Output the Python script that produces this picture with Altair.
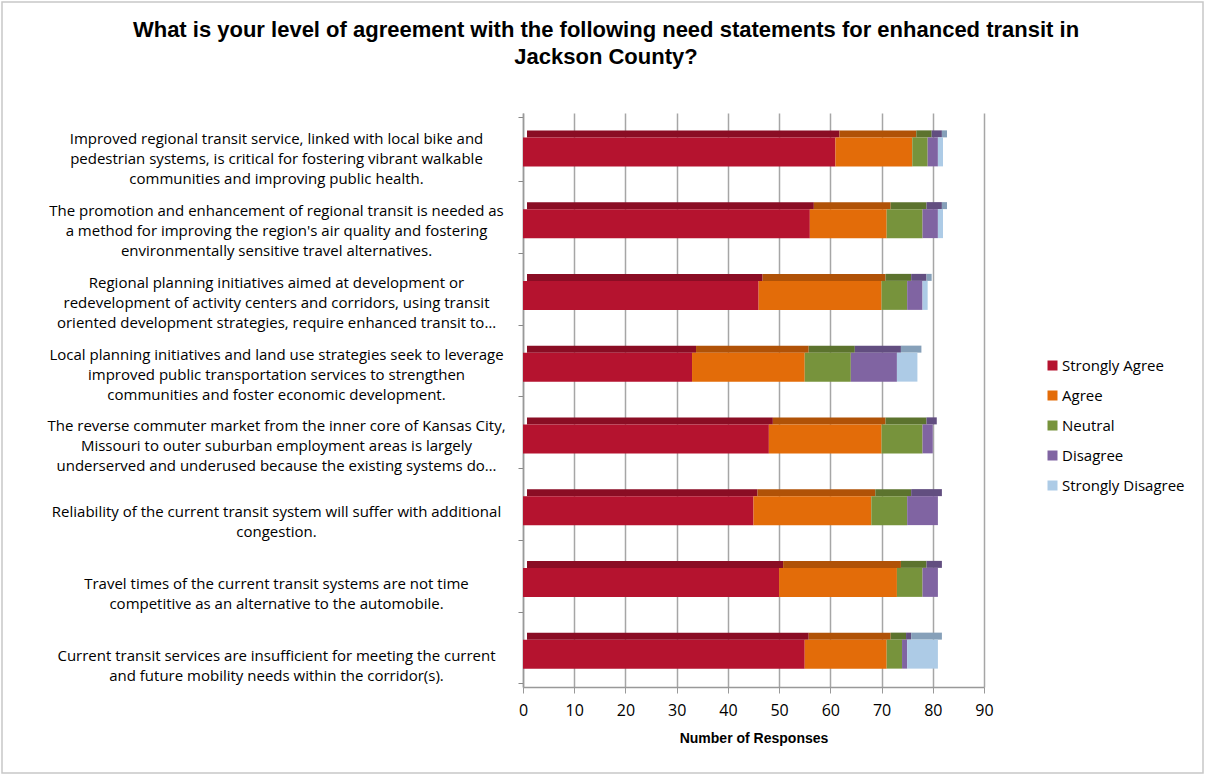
import altair as alt
import pandas as pd

title_lines = [
    "What is your level of agreement with the following need statements for enhanced transit in",
    "Jackson County?",
]
statements = [
    "Improved regional transit service, linked with local bike and|pedestrian systems, is critical for fostering vibrant walkable|communities and improving public health.",
    "The promotion and enhancement of regional transit is needed as|a method for improving the region's air quality and fostering|environmentally sensitive travel alternatives.",
    "Regional planning initiatives aimed at development or|redevelopment of activity centers and corridors, using transit|oriented development strategies, require enhanced transit to…",
    "Local planning initiatives and land use strategies seek to leverage|improved public transportation services to strengthen|communities and foster economic development.",
    "The reverse commuter market from the inner core of Kansas City,|Missouri to outer suburban employment areas is largely|underserved and underused because the existing systems do…",
    "Reliability of the current transit system will suffer with additional|congestion.",
    "Travel times of the current transit systems are not time|competitive as an alternative to the automobile.",
    "Current transit services are insufficient for meeting the current|and future mobility needs within the corridor(s).",
]
responses = ["Strongly Agree", "Agree", "Neutral", "Disagree", "Strongly Disagree"]
strongly_agree = [61, 56, 46, 33, 48, 45, 50, 55]
agree = [15, 15, 24, 22, 22, 23, 23, 16]
neutral = [3, 7, 5, 9, 8, 7, 5, 3]
disagree = [2, 3, 3, 9, 2, 6, 3, 1]
strongly_disagree = [1, 1, 1, 4, 0, 0, 0, 6]
x_ticks = [0, 10, 20, 30, 40, 50, 60, 70, 80, 90]

front_colors = ["#B5132F", "#E36C09", "#77933C", "#8064A2", "#ADCBE6"]
top_colors = ["#8A0D24", "#B05207", "#5C732E", "#624E80", "#86A0B9"]

series = [strongly_agree, agree, neutral, disagree, strongly_disagree]
rows = []
for ri, (resp, vals) in enumerate(zip(responses, series)):
    for s, v in zip(statements, vals):
        rows.append({"statement": s, "response": resp, "order": ri, "count": v})
df = pd.DataFrame(rows)

W, H = 461, 574
LEFT, TOP = 523, 113
FONT = "Open Sans"

base = alt.Chart(df).encode(
    y=alt.Y(
        "statement:N",
        sort=statements,
        title=None,
        axis=alt.Axis(
            labelExpr="split(datum.label, '|')",
            labelAlign="center",
            labelPadding=242,
            labelOffset={
                "condition": {"test": "length(split(datum.label, '|')) >= 3", "value": -10},
                "value": 4,
            },
            labelFontSize=15,
            labelLineHeight=20,
            labelLimit=0,
            labelColor="#000000",
            labelFont=FONT,
            tickBand="extent",
            tickColor="#888888",
            tickSize=5,
            domainColor="#999999",
            domainWidth=1.5,
            grid=False,
        ),
    ),
    x=alt.X(
        "count:Q",
        stack="zero",
        title="Number of Responses",
        scale=alt.Scale(domain=[0, 90], nice=False, zero=True),
        axis=alt.Axis(
            values=x_ticks,
            labelFlush=False,
            labelFontSize=16,
            labelColor="#000000",
            labelFont=FONT,
            labelPadding=9,
            titleFontSize=14,
            titleFontWeight="bold",
            titleFont="Liberation Sans",
            titleColor="#000000",
            titlePadding=13,
            grid=True,
            gridColor="#a6a6a6",
            gridWidth=1.5,
            domainColor="#999999",
            domainWidth=1.5,
            tickColor="#999999",
            tickSize=6,
        ),
    ),
    order=alt.Order("order:Q", sort="ascending"),
)

front = base.mark_bar(size=29, yOffset=3).encode(
    color=alt.Color(
        "response:N",
        scale=alt.Scale(domain=responses, range=front_colors),
        sort=responses,
        legend=alt.Legend(
            title=None,
            orient="none",
            legendX=522,
            legendY=245,
            symbolType="square",
            symbolSize=100,
            symbolStrokeWidth=0,
            labelFontSize=15,
            labelFont=FONT,
            labelColor="#000000",
            labelOffset=2,
            rowPadding=14,
            padding=0,
        ),
    )
)

top = base.mark_bar(size=7, yOffset=-15, xOffset=4).encode(
    color=alt.Color(
        "response:N",
        scale=alt.Scale(domain=responses, range=front_colors),
        legend=None,
    ),
    fill=alt.Fill(
        "response:N",
        scale=alt.Scale(domain=responses, range=top_colors),
        legend=None,
    ),
)

frame = alt.Chart(pd.DataFrame({"a": [0]})).mark_rect(
    filled=False, stroke="#c8c8c8", strokeWidth=1.5
).encode(
    x=alt.value(-LEFT + 2),
    x2=alt.value(1208 - LEFT - 5),
    y=alt.value(-TOP + 2),
    y2=alt.value(778 - TOP - 5),
)

title = alt.Chart(pd.DataFrame({"a": [0]})).mark_text(
    text=title_lines,
    font="Liberation Sans",
    fontSize=22,
    fontWeight="bold",
    color="#000000",
    align="center",
    baseline="middle",
    lineHeight=27,
).encode(
    x=alt.value(606 - LEFT),
    y=alt.value(30 - TOP),
)

chart = alt.layer(frame, title, top, front).resolve_scale(color="independent").properties(
    width=W,
    height=H,
    autosize=alt.AutoSizeParams(type="none"),
    padding={"left": LEFT, "top": TOP, "right": 1208 - LEFT - W, "bottom": 778 - TOP - H},
    background="#ffffff",
).configure_view(stroke=None)

chart.save("out.html", embed_options={"renderer": "svg", "actions": False})
